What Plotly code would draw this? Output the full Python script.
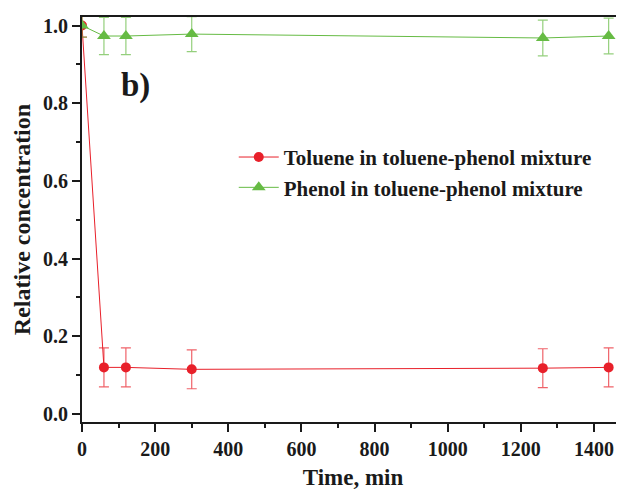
import plotly.graph_objects as go

time_min = [0, 60, 120, 300, 1260, 1440]
toluene = [1.0, 0.120, 0.120, 0.115, 0.118, 0.120]
toluene_err = [0.03, 0.05, 0.05, 0.05, 0.05, 0.05]
phenol = [1.0, 0.973, 0.973, 0.978, 0.968, 0.973]
phenol_err = [0.03, 0.048, 0.048, 0.045, 0.046, 0.046]

x_ticks = [0, 200, 400, 600, 800, 1000, 1200, 1400]
y_ticks = [0.0, 0.2, 0.4, 0.6, 0.8, 1.0]

font_family = "Liberation Serif"
red = "#e8202a"
green = "#66bb44"

fig = go.Figure()
fig.add_trace(go.Scatter(
    x=time_min, y=toluene, mode="lines+markers",
    name="<b>Toluene in toluene-phenol mixture</b>",
    line=dict(color=red, width=1),
    marker=dict(symbol="circle", size=10, color=red),
    error_y=dict(type="data", array=toluene_err, visible=True,
                 color="rgba(232,32,42,0.7)", thickness=1.2, width=5),
))
fig.add_trace(go.Scatter(
    x=time_min, y=phenol, mode="lines+markers",
    name="<b>Phenol in toluene-phenol mixture</b>",
    line=dict(color=green, width=1),
    marker=dict(symbol="triangle-up", size=12, color=green),
    error_y=dict(type="data", array=phenol_err, visible=True,
                 color="rgba(102,187,68,0.7)", thickness=1.2, width=5),
))

fig.add_annotation(
    x=0.068, y=0.832, xref="paper", yref="paper",
    text="<b>b)</b>", showarrow=False,
    font=dict(family=font_family, size=33, color="#1a1a1a"),
    xanchor="left", yanchor="middle",
)

fig.update_layout(
    width=616, height=482,
    margin=dict(l=74, r=0, t=9, b=68),
    paper_bgcolor="white", plot_bgcolor="white",
    font=dict(family=font_family, size=20, color="#1a1a1a"),
    showlegend=True,
    legend=dict(x=0.28, y=0.704, xanchor="left", yanchor="top",
                bgcolor="rgba(0,0,0,0)", font=dict(size=21, family=font_family),
                tracegroupgap=0, itemwidth=40),
    xaxis=dict(
        range=[0, 1482], tickvals=x_ticks, ticktext=[f"<b>{v}</b>" for v in x_ticks],
        showgrid=False, zeroline=False,
        showline=True, linecolor="#1a1a1a", linewidth=2, mirror=True,
        ticks="outside", ticklen=8, tickwidth=1.5, tickcolor="#1a1a1a",
        minor=dict(dtick=100, ticks="outside", ticklen=4, tickwidth=1.5, tickcolor="#1a1a1a"),
        title=dict(text="<b>Time, min</b>", font=dict(size=23, family=font_family), standoff=10),
        tickfont=dict(size=20, family=font_family),
    ),
    yaxis=dict(
        range=[-0.0206, 1.022], tickvals=y_ticks, ticktext=[f"<b>{v:.1f}</b>" for v in y_ticks],
        showgrid=False, zeroline=False,
        showline=True, linecolor="#1a1a1a", linewidth=2,
        ticks="outside", ticklen=8, tickwidth=1.5, tickcolor="#1a1a1a",
        minor=dict(dtick=0.1, ticks="outside", ticklen=4, tickwidth=1.5, tickcolor="#1a1a1a"),
        title=dict(text="<b>Relative concentration</b>", font=dict(size=24, family=font_family), standoff=6),
        tickfont=dict(size=20, family=font_family),
    ),
)

fig.write_html("out.html")
